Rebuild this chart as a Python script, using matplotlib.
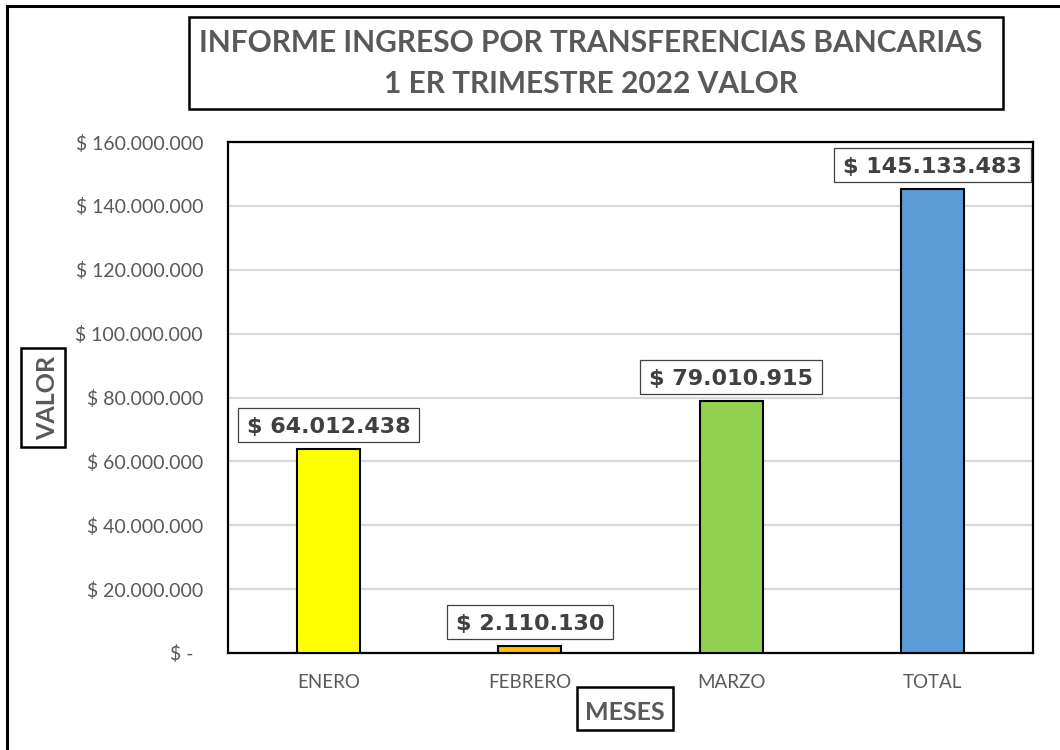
import matplotlib
matplotlib.use("Agg")
import matplotlib.pyplot as plt
from matplotlib.patches import Rectangle
from matplotlib.lines import Line2D

categories = ["ENERO", "FEBRERO", "MARZO", "TOTAL"]
values = [64012438, 2110130, 79010915, 145133483]
bar_colors = ["#FFFF00", "#FFC000", "#92D050", "#5B9BD5"]
yticks = [0, 20e6, 40e6, 60e6, 80e6, 100e6, 120e6, 140e6, 160e6]
title_lines = ["INFORME INGRESO POR TRANSFERENCIAS BANCARIAS", "1 ER TRIMESTRE 2022 VALOR"]
xlabel = "MESES"
ylabel = "VALOR"

W, H = 1060, 750
fig = plt.figure(figsize=(W / 100, H / 100), dpi=100)
fig.patch.set_facecolor("white")


def fx(px):
    return px / W


def fy(py):
    return 1 - py / H


def money(v):
    if v == 0:
        return "$ -  "
    return "$ " + f"{int(round(v)):,}".replace(",", ".")


ax = fig.add_axes([fx(228), fy(653), fx(1033) - fx(228), fy(142) - fy(653)])
x = list(range(len(categories)))
ax.bar(x, values, width=0.313, color=bar_colors, edgecolor="black", linewidth=1.5, zorder=3)
ax.set_xlim(-0.5, 3.5)
ax.set_ylim(0, 160e6)
ax.set_yticks(yticks)
ax.set_yticklabels([money(v) for v in yticks], fontfamily="Lato", fontsize=14, color="#595959")
ax.set_xticks(x)
ax.set_xticklabels(categories, fontfamily="Lato", fontsize=13.5, color="#595959")
ax.tick_params(axis="y", length=0, pad=18)
ax.tick_params(axis="x", length=0, pad=15)
ax.yaxis.grid(True, color="#D9D9D9", linewidth=1.6)
ax.set_axisbelow(True)
for s in ax.spines.values():
    s.set_color("black")
    s.set_linewidth(1.6)

# data labels with boxes (positions derived from the axes' data transform)
fig.canvas.draw()
r = fig.canvas.get_renderer()
for i, v in enumerate(values):
    xd, yd = ax.transData.transform((i, v))
    base = yd + 16
    t = fig.text(xd / W, base / H, money(v), ha="center", va="baseline",
                 fontfamily="DejaVu Sans", fontweight="bold", fontsize=16,
                 color="#404040", zorder=6)
    bb = t.get_window_extent(renderer=r)
    x0, x1 = bb.x0 - 9, bb.x1 + 9
    y0, y1 = base - 9, base + 25
    fig.add_artist(Rectangle((x0 / W, y0 / H), (x1 - x0) / W, (y1 - y0) / H,
                             transform=fig.transFigure, facecolor="white",
                             edgecolor="#404040", linewidth=0.9, zorder=5))

# outer border (left and top)
fig.add_artist(Line2D([fx(7), fx(7)], [fy(6), 0], color="black", lw=2.2, transform=fig.transFigure))
fig.add_artist(Line2D([fx(7), 1], [fy(6), fy(6)], color="black", lw=2.2, transform=fig.transFigure))

# title box
fig.add_artist(Rectangle((fx(189), fy(109)), fx(1003) - fx(189), fy(17) - fy(109),
                         transform=fig.transFigure, facecolor="white", edgecolor="black", lw=1.8))
fig.text(fx(591), fy(52), title_lines[0], ha="center", va="baseline", fontfamily="Lato",
         fontweight="bold", fontsize=21.5, color="#595959")
fig.text(fx(591), fy(93), title_lines[1], ha="center", va="baseline", fontfamily="Lato",
         fontweight="bold", fontsize=21.5, color="#595959")

# x label box
fig.add_artist(Rectangle((fx(577), fy(730)), fx(673) - fx(577), fy(687) - fy(730),
                         transform=fig.transFigure, facecolor="white", edgecolor="black", lw=1.8))
fig.text(fx(625), fy(720), xlabel, ha="center", va="baseline", fontfamily="Lato",
         fontweight="bold", fontsize=18, color="#595959")

# y label box
fig.add_artist(Rectangle((fx(21), fy(447)), fx(65) - fx(21), fy(348) - fy(447),
                         transform=fig.transFigure, facecolor="white", edgecolor="black", lw=1.8))
fig.text(fx(55), fy(398), ylabel, ha="center", va="baseline", rotation=90, rotation_mode="anchor",
         fontfamily="Lato", fontweight="bold", fontsize=18, color="#595959")

fig.savefig("out.png", dpi=100)
